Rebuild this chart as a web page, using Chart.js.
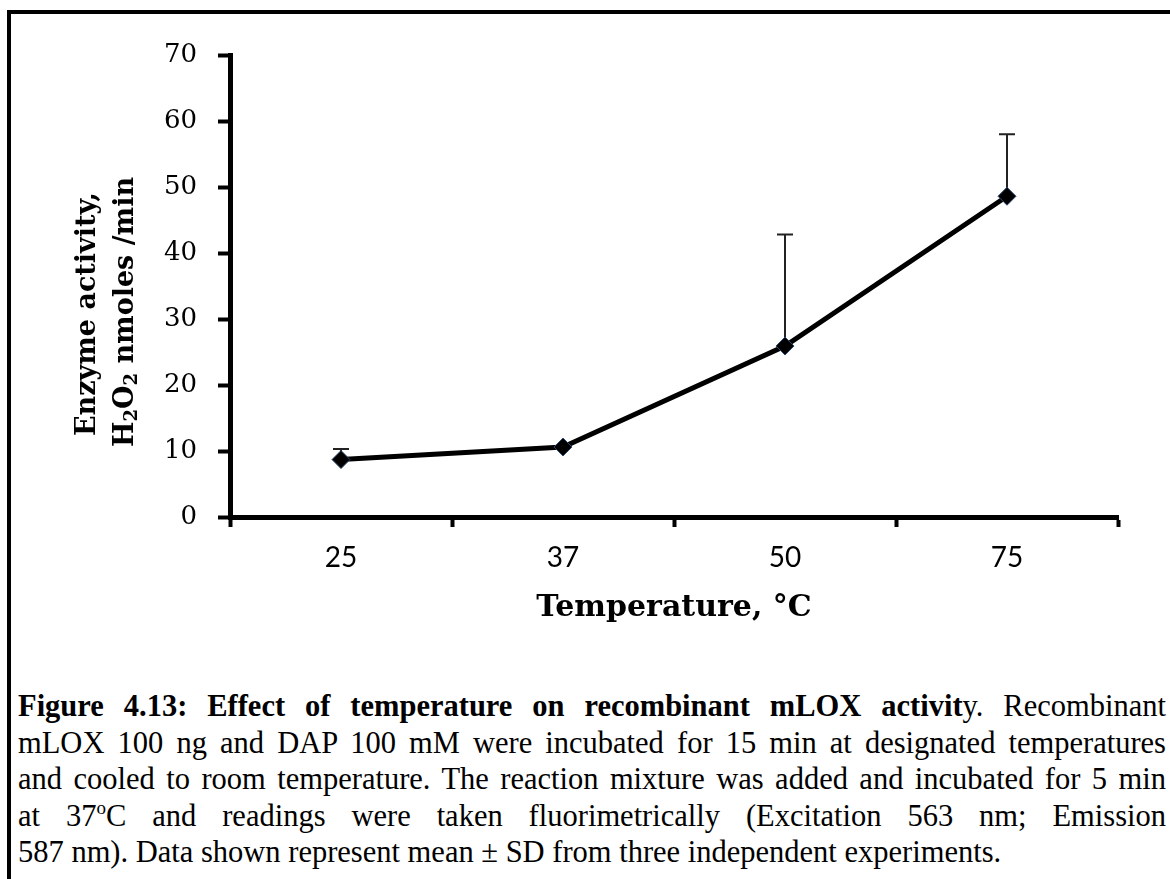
<!DOCTYPE html>
<html>
<head>
<meta charset="utf-8">
<script src="https://cdn.jsdelivr.net/npm/chart.js@4.4.1/dist/chart.umd.min.js"></script>
<style>
    html, body { margin: 0; padding: 0; background: #fff; }
    body { width: 1170px; height: 879px; position: relative; overflow: hidden; }
    #frame {
        position: absolute; left: 7px; top: 10px;
        width: 1200px; height: 1000px;
        border-left: 4px solid #000; border-top: 4px solid #000;
    }
    #chartBox { position: absolute; left: 0; top: 0; width: 1170px; height: 650px; }
    #caption {
        position: absolute; left: 18px; top: 688px; width: 1148px;
        font-family: "Liberation Serif", "Times New Roman", serif;
        font-size: 30.5px; line-height: 36.5px; color: #000;
    }
    #caption div { white-space: nowrap; text-align: justify; text-align-last: justify; }
    #caption div.last { text-align: left; text-align-last: left; }
    #caption sup { font-size: 19px; line-height: 0; vertical-align: 12px; }
</style>
</head>
<body>
<div id="frame"></div>
<div id="chartBox"><canvas id="canvasTemp" width="1170" height="650"></canvas></div>
<div id="caption">
    <div><b>Figure 4.13: Effect of temperature on recombinant mLOX activit</b>y. Recombinant</div>
    <div>mLOX 100 ng and DAP 100 mM were incubated for 15 min at designated temperatures</div>
    <div>and cooled to room temperature. The reaction mixture was added and incubated for 5 min</div>
    <div>at 37<sup>o</sup>C and readings were taken fluorimetrically (Excitation 563 nm; Emission</div>
    <div class="last">587 nm). Data shown represent mean &plusmn; SD from three independent experiments.</div>
</div>

<script>
// temperatures (categories) and enzyme activity
var temperatures = ['25', '37', '50', '75'];
var activity = [8.7, 10.6, 25.9, 48.6];
var activitySD = [1.6, 0, 16.9, 9.4];

var yMin = 0;
var yMax = 70;
var yStep = 10;

var xTitle = 'Temperature, \u00B0C';
var yTitleLine1 = 'Enzyme activity,';

// upper error bars only, like the original
var errorBars = {
    id: 'errorBars',
    beforeDatasetsDraw: function (chart) {
        var meta = chart.getDatasetMeta(0);
        var y = chart.scales.y;
        var ctx = chart.ctx;
        ctx.save();
        ctx.strokeStyle = '#222';
        ctx.lineWidth = 2;
        meta.data.forEach(function (pt, i) {
            if (!activitySD[i]) return;
            var top = y.getPixelForValue(activity[i] + activitySD[i]);
            ctx.beginPath();
            ctx.moveTo(pt.x, pt.y);
            ctx.lineTo(pt.x, top);
            ctx.moveTo(pt.x - 8, top);
            ctx.lineTo(pt.x + 8, top);
            ctx.stroke();
        });
        ctx.restore();
    }
};

// two line rotated y title, with subscripts in H2O2
var yTitle = {
    id: 'yTitle',
    afterDraw: function (chart) {
        var ctx = chart.ctx;
        var big = 'bold 27px "DejaVu Serif", serif';
        var small = 'bold 18px "DejaVu Serif", serif';
        var parts = [['H', big, 0], ['2', small, 6], ['O', big, 0], ['2', small, 6], [' nmoles /min', big, 0]];

        ctx.save();
        ctx.fillStyle = '#000';
        ctx.textBaseline = 'middle';
        ctx.translate(88, 314);
        ctx.rotate(-Math.PI / 2);
        ctx.font = big;
        ctx.textAlign = 'center';
        ctx.fillText(yTitleLine1, 0, 0);
        ctx.restore();

        ctx.save();
        ctx.fillStyle = '#000';
        ctx.textBaseline = 'middle';
        ctx.translate(126, 312);
        ctx.rotate(-Math.PI / 2);
        var total = 0;
        parts.forEach(function (p) { ctx.font = p[1]; total += ctx.measureText(p[0]).width; });
        var x = -total / 2;
        ctx.textAlign = 'left';
        parts.forEach(function (p) {
            ctx.font = p[1];
            ctx.fillText(p[0], x, p[2]);
            x += ctx.measureText(p[0]).width;
        });
        ctx.restore();
    }
};

new Chart(document.getElementById('canvasTemp'), {
    type: 'line',
    data: {
        labels: temperatures,
        datasets: [{
            data: activity,
            borderColor: '#000',
            borderWidth: 5,
            tension: 0,
            fill: false,
            pointStyle: 'rectRot',
            pointRadius: 9,
            pointBackgroundColor: '#000',
            pointBorderColor: '#2c4a70',
            pointBorderWidth: 1
        }]
    },
    options: {
        responsive: false,
        animation: false,
        layout: { padding: { top: 55, right: 52, bottom: 0, left: 0 } },
        plugins: {
            legend: { display: false },
            tooltip: { enabled: false }
        },
        scales: {
            x: {
                offset: true,
                grid: {
                    offset: true,
                    drawOnChartArea: false,
                    drawTicks: true,
                    tickLength: 10,
                    tickWidth: 4,
                    tickColor: '#000'
                },
                border: { display: true, color: '#000', width: 5 },
                ticks: {
                    color: '#000',
                    padding: 14,
                    font: { family: '"Liberation Sans Narrow", Lato, sans-serif', size: 28 }
                },
                title: {
                    display: true,
                    text: xTitle,
                    color: '#000',
                    padding: { top: 0, bottom: 24 },
                    font: { family: '"DejaVu Serif", serif', size: 30, weight: 'bold' }
                },
                afterFit: function (s) { s.height = 133; }
            },
            y: {
                min: yMin,
                max: yMax,
                grid: {
                    drawOnChartArea: false,
                    drawTicks: true,
                    tickLength: 12,
                    tickWidth: 4,
                    tickColor: '#000'
                },
                border: { display: true, color: '#000', width: 5 },
                ticks: {
                    stepSize: yStep,
                    color: '#000',
                    padding: 21,
                    font: { family: '"DejaVu Serif", serif', size: 26 }
                },
                afterFit: function (s) { s.width = 230; }
            }
        }
    },
    plugins: [errorBars, yTitle]
});
</script>
</body>
</html>
